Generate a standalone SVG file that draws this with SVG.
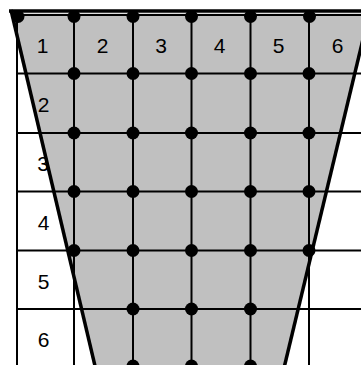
<svg xmlns="http://www.w3.org/2000/svg" width="361" height="365" viewBox="0 0 361 365">
<style>
.grid{stroke:#000;stroke-width:2;fill:none}
.edge{stroke:#000;stroke-width:3.5;fill:none;stroke-linecap:butt}
.dot{fill:#000}
.lbl{font-family:"Liberation Sans",Arial,sans-serif;font-size:21px;fill:#000;text-anchor:middle}
</style>
<rect x="0" y="0" width="361" height="365" fill="#fff"/>
<g id="shape">
<polygon points="11.5,13.5 370,13.5 283,370 96,370" fill="#c0c0c0"/>
</g>
<g id="grid" class="grid">
<line x1="17" y1="15" x2="361" y2="15"/>
<line x1="17" y1="73.5" x2="361" y2="73.5"/>
<line x1="17" y1="133" x2="361" y2="133"/>
<line x1="17" y1="191.5" x2="361" y2="191.5"/>
<line x1="17" y1="250.5" x2="361" y2="250.5"/>
<line x1="17" y1="309" x2="361" y2="309"/>
<line x1="17" y1="15" x2="17" y2="365"/>
<line x1="74" y1="15" x2="74" y2="365"/>
<line x1="133" y1="15" x2="133" y2="365"/>
<line x1="191.5" y1="15" x2="191.5" y2="365"/>
<line x1="250.5" y1="15" x2="250.5" y2="365"/>
<line x1="309" y1="15" x2="309" y2="365"/>
</g>
<g id="labels" class="lbl">
<text x="42.5" y="53">1</text>
<text x="102.5" y="53">2</text>
<text x="161" y="53">3</text>
<text x="219.5" y="53">4</text>
<text x="278.5" y="53">5</text>
<text x="337.5" y="53">6</text>
<text x="43.5" y="112">2</text>
<text x="43" y="171">3</text>
<text x="43.5" y="230">4</text>
<text x="43.5" y="289">5</text>
<text x="43.5" y="347">6</text>
</g>
<g id="outline" class="edge">
<line x1="9" y1="11" x2="361" y2="11"/>
<line x1="11" y1="10" x2="95.5" y2="368"/>
<line x1="370" y1="10" x2="284" y2="368"/>
</g>
<g id="dots" class="dot">
<circle cx="18" cy="16.5" r="6.5"/>
<circle cx="74" cy="16.5" r="6.5"/>
<circle cx="133" cy="16.5" r="6.5"/>
<circle cx="191.5" cy="16.5" r="6.5"/>
<circle cx="250.5" cy="16.5" r="6.5"/>
<circle cx="309.5" cy="16.5" r="6.5"/>
<circle cx="74" cy="73.5" r="6.5"/>
<circle cx="133" cy="73.5" r="6.5"/>
<circle cx="191.5" cy="73.5" r="6.5"/>
<circle cx="250.5" cy="73.5" r="6.5"/>
<circle cx="309" cy="73.5" r="6.5"/>
<circle cx="74" cy="133" r="6.5"/>
<circle cx="133" cy="133" r="6.5"/>
<circle cx="191.5" cy="133" r="6.5"/>
<circle cx="250.5" cy="133" r="6.5"/>
<circle cx="309" cy="133" r="6.5"/>
<circle cx="74" cy="191.5" r="6.5"/>
<circle cx="133" cy="191.5" r="6.5"/>
<circle cx="191.5" cy="191.5" r="6.5"/>
<circle cx="250.5" cy="191.5" r="6.5"/>
<circle cx="309" cy="191.5" r="6.5"/>
<circle cx="74" cy="250.5" r="6.5"/>
<circle cx="133" cy="250.5" r="6.5"/>
<circle cx="191.5" cy="250.5" r="6.5"/>
<circle cx="250.5" cy="250.5" r="6.5"/>
<circle cx="309" cy="250.5" r="6.5"/>
<circle cx="133" cy="309" r="6.5"/>
<circle cx="191.5" cy="309" r="6.5"/>
<circle cx="250.5" cy="309" r="6.5"/>
<circle cx="133" cy="366" r="6.5"/>
<circle cx="191.5" cy="366" r="6.5"/>
<circle cx="250.5" cy="366" r="6.5"/>
</g>
</svg>
